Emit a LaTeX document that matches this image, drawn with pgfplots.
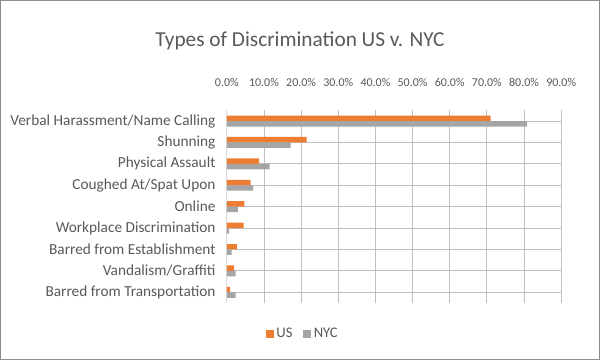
\documentclass[border=0pt]{standalone}
\usepackage{pgfplots}
\pgfplotsset{compat=1.18}
\usepackage{fontspec}
\setmainfont{Carlito}
\definecolor{usor}{RGB}{237,125,49}
\definecolor{nycg}{RGB}{165,165,165}
\definecolor{txt}{RGB}{89,89,89}
\definecolor{grid}{RGB}{217,217,217}
\begin{document}
\begin{tikzpicture}
\path[draw=black!45, fill=white, line width=0.8pt] (0,0) rectangle (450pt,270pt);
\node[text=txt, font=\fontsize{16pt}{18pt}\selectfont] at (225pt,240pt) {Types of Discrimination US v. NYC};
\begin{axis}[
  at={(170pt,42.75pt)}, anchor=south west,
  scale only axis, width=251.25pt, height=144.75pt,
  xbar, bar width=4.1pt,
  xmin=0, xmax=90,
  ymin=-0.5, ymax=8.5, y dir=reverse,
  ytick={0,...,8},
  yticklabels={Verbal Harassment/Name Calling,Shunning,Physical Assault,Coughed At/Spat Upon,Online,Workplace Discrimination,Barred from Establishment,Vandalism/Graffiti,Barred from Transportation},
  xtick={0,10,...,90},
  xticklabels={0.0\%,10.0\%,20.0\%,30.0\%,40.0\%,50.0\%,60.0\%,70.0\%,80.0\%,90.0\%},
  xticklabel pos=upper,
  xticklabel style={font=\fontsize{9pt}{10pt}\selectfont, text=txt, yshift=14pt},
  yticklabel style={font=\fontsize{11.5pt}{12pt}\selectfont, text=txt, xshift=-5pt},
  major tick length=0pt,
  xmajorgrids, grid style={grid, line width=0.6pt},
  axis line style={draw=none},
  extra x ticks={0}, extra x tick labels={}, extra x tick style={grid style={draw=grid,line width=0.8pt}},
  legend style={at={(0.228,-0.16)}, anchor=center, draw=none, legend columns=2, font=\fontsize{11pt}{12pt}\selectfont, text=txt, /tikz/every even column/.append style={column sep=6pt}},
  legend image code/.code={\fill[#1] (0pt,-3pt) rectangle (6pt,3pt);},
]
\addplot[fill=usor, draw=none, bar shift=2.05pt] coordinates {(71.0,0) (21.5,1) (8.7,2) (6.4,3) (4.7,4) (4.5,5) (2.7,6) (2.0,7) (0.9,8)};
\addplot[fill=nycg, draw=none, bar shift=-2.05pt] coordinates {(80.8,0) (17.2,1) (11.5,2) (7.1,3) (3.0,4) (0.6,5) (1.3,6) (2.4,7) (2.4,8)};
\legend{US,NYC}
\end{axis}
\end{tikzpicture}
\end{document}
